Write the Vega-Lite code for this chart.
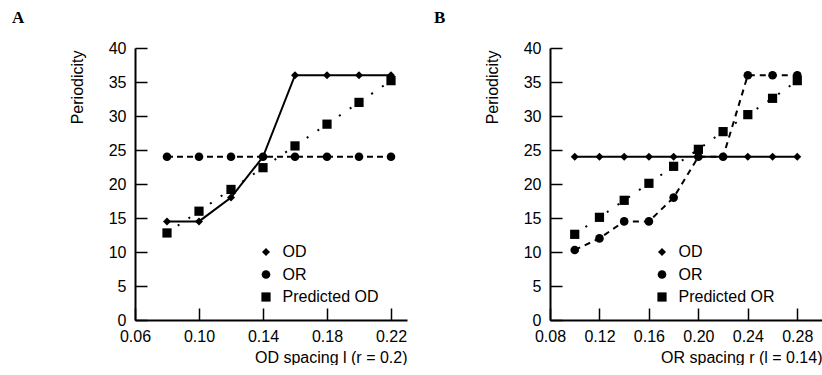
{
  "$schema": "https://vega.github.io/schema/vega-lite/v6.json",
  "background": "white",
  "padding": {"left": 12, "top": 9, "right": 0, "bottom": 0},
  "spacing": 143,
  "bounds": "flush",
  "config": {
    "view": {"stroke": null},
    "font": "Liberation Sans",
    "axis": {
      "grid": false,
      "domainColor": "black",
      "domainWidth": 2,
      "tickColor": "black",
      "tickWidth": 1.5,
      "tickSize": -12,
      "labelFont": "Liberation Sans",
      "labelFontSize": 16,
      "labelColor": "black",
      "labelFlush": false,
      "labelOverlap": false,
      "titleFont": "Liberation Sans",
      "titleFontSize": 16,
      "titleFontWeight": "normal",
      "titleColor": "black"
    },
    "axisX": {"labelPadding": 20},
    "axisY": {"labelPadding": 21},
    "legend": {
      "labelFont": "Liberation Sans",
      "labelFontSize": 16,
      "labelColor": "black",
      "labelOffset": 8.5,
      "rowPadding": 6.5,
      "padding": 0,
      "symbolFillColor": "black",
      "symbolStrokeColor": "black"
    },
    "title": {
      "font": "Liberation Serif",
      "fontSize": 17,
      "fontWeight": "bold",
      "color": "black",
      "anchor": "start",
      "frame": "group",
      "offset": 13
    }
  },
  "resolve": {
    "scale": {"x": "independent", "y": "independent", "shape": "independent", "size": "independent"},
    "legend": {"shape": "independent", "size": "independent"}
  },
  "hconcat": [
    {
      "title": {"text": "A", "dx": -123},
      "width": 272,
      "height": 272,
      "data": {
        "values": [
          {"spacing": 0.08, "periodicity": 14.5, "series": "OD"},
          {"spacing": 0.10, "periodicity": 14.5, "series": "OD"},
          {"spacing": 0.12, "periodicity": 18.0, "series": "OD"},
          {"spacing": 0.14, "periodicity": 24.0, "series": "OD"},
          {"spacing": 0.16, "periodicity": 36.0, "series": "OD"},
          {"spacing": 0.18, "periodicity": 36.0, "series": "OD"},
          {"spacing": 0.20, "periodicity": 36.0, "series": "OD"},
          {"spacing": 0.22, "periodicity": 36.0, "series": "OD"},
          {"spacing": 0.08, "periodicity": 24.0, "series": "OR"},
          {"spacing": 0.10, "periodicity": 24.0, "series": "OR"},
          {"spacing": 0.12, "periodicity": 24.0, "series": "OR"},
          {"spacing": 0.14, "periodicity": 24.0, "series": "OR"},
          {"spacing": 0.16, "periodicity": 24.0, "series": "OR"},
          {"spacing": 0.18, "periodicity": 24.0, "series": "OR"},
          {"spacing": 0.20, "periodicity": 24.0, "series": "OR"},
          {"spacing": 0.22, "periodicity": 24.0, "series": "OR"},
          {"spacing": 0.08, "periodicity": 12.8, "series": "Predicted OD"},
          {"spacing": 0.10, "periodicity": 16.0, "series": "Predicted OD"},
          {"spacing": 0.12, "periodicity": 19.2, "series": "Predicted OD"},
          {"spacing": 0.14, "periodicity": 22.4, "series": "Predicted OD"},
          {"spacing": 0.16, "periodicity": 25.6, "series": "Predicted OD"},
          {"spacing": 0.18, "periodicity": 28.8, "series": "Predicted OD"},
          {"spacing": 0.20, "periodicity": 32.0, "series": "Predicted OD"},
          {"spacing": 0.22, "periodicity": 35.2, "series": "Predicted OD"}
        ]
      },
      "encoding": {
        "x": {
          "field": "spacing", "type": "quantitative",
          "scale": {"domain": [0.06, 0.23], "nice": false, "zero": false},
          "axis": {"title": "OD spacing l (r = 0.2)", "values": [0.06, 0.10, 0.14, 0.18, 0.22], "format": ".2f",
                   "titleX": 272, "titleY": 37, "titleAlign": "right", "titleBaseline": "middle"}
        },
        "y": {
          "field": "periodicity", "type": "quantitative",
          "scale": {"domain": [0, 40], "nice": false},
          "axis": {"title": "Periodicity", "values": [0, 5, 10, 15, 20, 25, 30, 35, 40],
                   "titleX": -58, "titleY": 2, "titleAngle": -90, "titleAlign": "right", "titleBaseline": "middle"}
        }
      },
      "layer": [
        {
          "transform": [{"filter": "datum.series === 'OD'"}],
          "mark": {"type": "line", "color": "black", "strokeWidth": 2},
          "encoding": {}
        },
        {
          "transform": [{"filter": "datum.series === 'OR'"}],
          "mark": {"type": "line", "color": "black", "strokeWidth": 2, "strokeDash": [6, 4]},
          "encoding": {}
        },
        {
          "transform": [{"filter": "datum.series === 'Predicted OD'"}],
          "mark": {"type": "line", "color": "black", "strokeWidth": 2, "strokeDash": [2, 11]},
          "encoding": {}
        },
        {
          "mark": {"type": "point", "filled": true, "color": "black", "opacity": 1},
          "encoding": {
            "shape": {"field": "series", "type": "nominal",
              "scale": {"domain": ["OD", "OR", "Predicted OD"], "range": ["diamond", "circle", "square"]},
              "legend": {"title": null, "orient": "none", "legendX": 123, "legendY": 196}},
            "size": {"field": "series", "type": "nominal",
              "scale": {"domain": ["OD", "OR", "Predicted OD"], "range": [64, 85, 85]},
              "legend": {"title": null, "orient": "none", "legendX": 123, "legendY": 196}}
          }
        }
      ]
    },
    {
      "title": {"text": "B", "dx": -116},
      "width": 272,
      "height": 272,
      "data": {
        "values": [
          {"spacing": 0.10, "periodicity": 24.0, "series": "OD"},
          {"spacing": 0.12, "periodicity": 24.0, "series": "OD"},
          {"spacing": 0.14, "periodicity": 24.0, "series": "OD"},
          {"spacing": 0.16, "periodicity": 24.0, "series": "OD"},
          {"spacing": 0.18, "periodicity": 24.0, "series": "OD"},
          {"spacing": 0.20, "periodicity": 24.0, "series": "OD"},
          {"spacing": 0.22, "periodicity": 24.0, "series": "OD"},
          {"spacing": 0.24, "periodicity": 24.0, "series": "OD"},
          {"spacing": 0.26, "periodicity": 24.0, "series": "OD"},
          {"spacing": 0.28, "periodicity": 24.0, "series": "OD"},
          {"spacing": 0.10, "periodicity": 10.3, "series": "OR"},
          {"spacing": 0.12, "periodicity": 12.0, "series": "OR"},
          {"spacing": 0.14, "periodicity": 14.5, "series": "OR"},
          {"spacing": 0.16, "periodicity": 14.5, "series": "OR"},
          {"spacing": 0.18, "periodicity": 18.0, "series": "OR"},
          {"spacing": 0.20, "periodicity": 24.0, "series": "OR"},
          {"spacing": 0.22, "periodicity": 24.0, "series": "OR"},
          {"spacing": 0.24, "periodicity": 36.0, "series": "OR"},
          {"spacing": 0.26, "periodicity": 36.0, "series": "OR"},
          {"spacing": 0.28, "periodicity": 36.0, "series": "OR"},
          {"spacing": 0.10, "periodicity": 12.6, "series": "Predicted OR"},
          {"spacing": 0.12, "periodicity": 15.1, "series": "Predicted OR"},
          {"spacing": 0.14, "periodicity": 17.6, "series": "Predicted OR"},
          {"spacing": 0.16, "periodicity": 20.1, "series": "Predicted OR"},
          {"spacing": 0.18, "periodicity": 22.6, "series": "Predicted OR"},
          {"spacing": 0.20, "periodicity": 25.1, "series": "Predicted OR"},
          {"spacing": 0.22, "periodicity": 27.7, "series": "Predicted OR"},
          {"spacing": 0.24, "periodicity": 30.2, "series": "Predicted OR"},
          {"spacing": 0.26, "periodicity": 32.6, "series": "Predicted OR"},
          {"spacing": 0.28, "periodicity": 35.2, "series": "Predicted OR"}
        ]
      },
      "encoding": {
        "x": {
          "field": "spacing", "type": "quantitative",
          "scale": {"domain": [0.08, 0.30], "nice": false, "zero": false},
          "axis": {"title": "OR spacing r (l = 0.14)", "values": [0.08, 0.12, 0.16, 0.20, 0.24, 0.28], "format": ".2f",
                   "titleX": 272, "titleY": 37, "titleAlign": "right", "titleBaseline": "middle"}
        },
        "y": {
          "field": "periodicity", "type": "quantitative",
          "scale": {"domain": [0, 40], "nice": false},
          "axis": {"title": "Periodicity", "values": [0, 5, 10, 15, 20, 25, 30, 35, 40],
                   "titleX": -58, "titleY": 2, "titleAngle": -90, "titleAlign": "right", "titleBaseline": "middle"}
        }
      },
      "layer": [
        {
          "transform": [{"filter": "datum.series === 'OD'"}],
          "mark": {"type": "line", "color": "black", "strokeWidth": 2},
          "encoding": {}
        },
        {
          "transform": [{"filter": "datum.series === 'OR'"}],
          "mark": {"type": "line", "color": "black", "strokeWidth": 2, "strokeDash": [6, 5]},
          "encoding": {}
        },
        {
          "transform": [{"filter": "datum.series === 'Predicted OR'"}],
          "mark": {"type": "line", "color": "black", "strokeWidth": 2, "strokeDash": [2, 11]},
          "encoding": {}
        },
        {
          "mark": {"type": "point", "filled": true, "color": "black", "opacity": 1},
          "encoding": {
            "shape": {"field": "series", "type": "nominal",
              "scale": {"domain": ["OD", "OR", "Predicted OR"], "range": ["diamond", "circle", "square"]},
              "legend": {"title": null, "orient": "none", "legendX": 104, "legendY": 196}},
            "size": {"field": "series", "type": "nominal",
              "scale": {"domain": ["OD", "OR", "Predicted OR"], "range": [64, 85, 85]},
              "legend": {"title": null, "orient": "none", "legendX": 104, "legendY": 196}}
          }
        }
      ]
    }
  ]
}
